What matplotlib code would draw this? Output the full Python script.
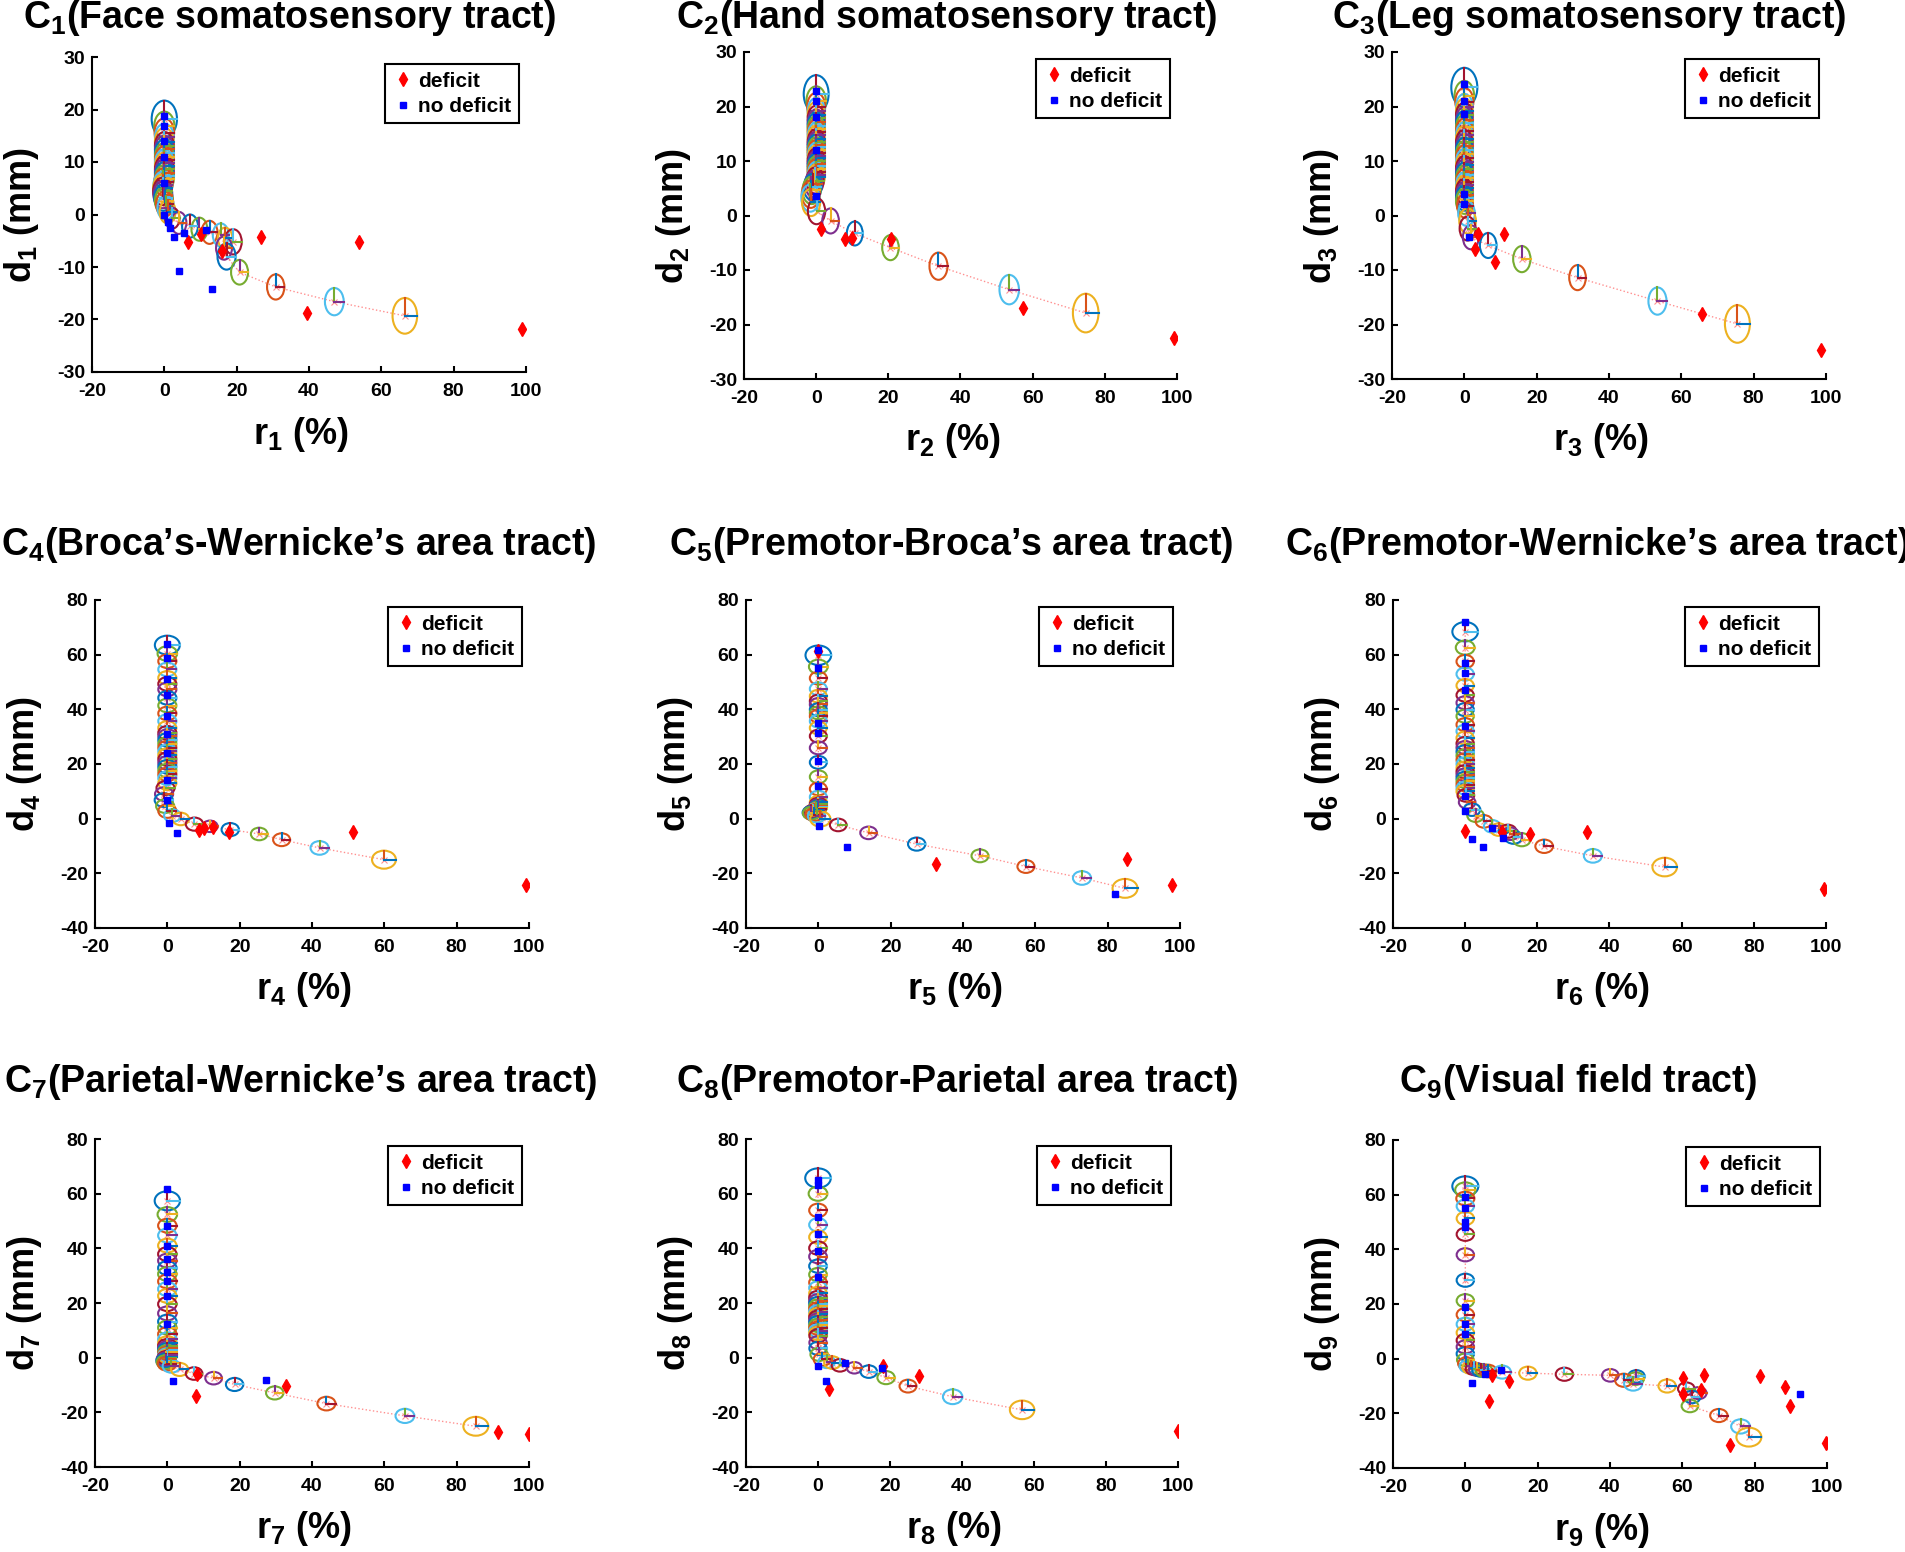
import matplotlib
matplotlib.use("Agg")
import matplotlib.pyplot as plt
from matplotlib.patches import Ellipse
from matplotlib.lines import Line2D

plt.rcParams['font.family'] = 'Liberation Sans'
plt.rcParams['font.weight'] = 'bold'
plt.rcParams['mathtext.fontset'] = 'custom'
plt.rcParams['mathtext.rm'] = 'Liberation Sans:bold'
plt.rcParams['mathtext.it'] = 'Liberation Sans:bold'
plt.rcParams['mathtext.bf'] = 'Liberation Sans:bold'

# MATLAB default colour order
MATLAB_COLORS = ['#0072BD', '#D95319', '#EDB120', '#7E2F8E', '#77AC30', '#4DBEEE', '#A2142F']

TITLES = ["Face somatosensory tract", "Hand somatosensory tract", "Leg somatosensory tract",
          "Broca\u2019s-Wernicke\u2019s area tract", "Premotor-Broca\u2019s area tract",
          "Premotor-Wernicke\u2019s area tract", "Parietal-Wernicke\u2019s area tract",
          "Premotor-Parietal area tract", "Visual field tract"]

X_TICKS = [-20, 0, 20, 40, 60, 80, 100]
Y_TICKS_TOP = [-30, -20, -10, 0, 10, 20, 30]
Y_TICKS_LOW = [-40, -20, 0, 20, 40, 60, 80]

# ---- principal curve nodes (r, d, local radius) + patients ----
# C1
r1_nodes = [0, 0, 0, 0, 0, 0, 0, 0, 0, 0, 0, 0, 0, 0, 0, 0, -0.2, -0.4, -0.5, -0.5, -0.4, -0.3, -0.1, 0.1, 0.4, 0.9,
            2.2, 4.0, 7.1, 9.7, 12.5, 15.6, 16.8, 19.0, 16.5, 17.2, 20.8, 30.8, 47.0, 66.5]
d1_nodes = [18.2, 16.8, 15.6, 14.7, 13.9, 13.1, 12.4, 11.7, 11.0, 10.4, 9.8, 9.2, 8.6, 8.0, 7.4, 6.8, 6.2, 5.6, 5.0,
            4.4, 3.8, 3.2, 2.6, 2.0, 1.3, 0.5,
            -0.7, -1.6, -2.2, -2.8, -3.4, -3.9, -4.5, -5.2, -6.4, -8.0, -11.0, -13.8, -16.6, -19.3]
s1_nodes = [3.5, 2.8, 2.7, 2.6, 2.6, 2.6, 2.6, 2.6, 2.6, 2.6, 2.6, 2.6, 2.6, 2.6, 2.6, 2.6, 2.6, 2.6, 2.6, 2.6, 2.6,
            2.5, 2.5, 2.4, 2.3, 2.2,
            2.0, 2.1, 2.2, 2.2, 2.2, 2.2, 2.0, 2.4, 2.2, 2.5, 2.35, 2.4, 2.6, 3.4]
r1_def = [6.5, 10.1, 16.0, 26.6, 39.5, 53.9, 98.8]
d1_def = [-5.3, -3.8, -7.0, -4.2, -18.7, -5.2, -21.9]
r1_nodef = [0, 0, 0, 0, 0, 0, 0.9, 1.6, 2.8, 5.5, 11.5, 4.1, 13.3]
d1_nodef = [18.7, 16.8, 14.0, 11.0, 6.0, 0.0, -1.5, -2.5, -4.2, -3.5, -2.9, -10.8, -14.1]

# C2
r2_nodes = [0, 0, 0, 0, 0, 0, 0, 0, 0, 0, 0, 0, 0, 0, 0, 0, 0, 0, 0, 0, 0, 0, 0, 0, 0, 0,
            -0.3, -0.7, -1.0, -1.3, -1.5, -1.6, -1.4,
            0.1, 4.0, 10.7, 20.6, 33.9, 53.5, 74.7]
d2_nodes = [22.3, 21.0, 20.0, 19.2, 18.5, 17.8, 17.1, 16.5, 15.9, 15.3, 14.7, 14.1, 13.5, 13.0, 12.5, 12.0, 11.5,
            11.0, 10.5, 10.0, 9.5, 9.0, 8.5, 8.0, 7.5, 7.0, 6.4, 5.8, 5.2, 4.6, 3.9, 3.2, 2.4,
            0.8, -1.0, -3.3, -5.9, -9.3, -13.6, -17.9]
s2_nodes = [3.45, 2.7, 2.5, 2.35, 2.35, 2.35, 2.35, 2.35, 2.35, 2.35, 2.35, 2.35, 2.35, 2.35, 2.35, 2.35, 2.35,
            2.35, 2.35, 2.35, 2.35, 2.35, 2.35, 2.35, 2.35, 2.35, 2.4, 2.4, 2.45, 2.5, 2.5, 2.5, 2.5,
            2.4, 2.3, 2.2, 2.3, 2.5, 2.7, 3.55]
r2_def = [1.4, 8.1, 9.9, 20.7, 57.4, 99.2]
d2_def = [-2.4, -4.4, -4.1, -4.3, -16.9, -22.5]
r2_nodef = [0, 0, 0, 0, 0]
d2_nodef = [22.8, 21.0, 18.0, 12.0, 3.5]

# C3
r3_nodes = [0, 0, 0, 0, 0, 0, 0, 0, 0, 0, 0, 0, 0, 0, 0, 0, 0, 0, 0, 0, 0, 0, 0, 0, 0, 0, 0, 0, 0, 0,
            0.2, 0.6, 0.9, 0.9, 1.8, 6.6, 15.9, 31.3, 53.4, 75.5]
d3_nodes = [23.5, 22.0, 20.9, 20.0, 19.2, 18.4, 17.6, 16.9, 16.2, 15.5, 14.8, 14.1, 13.4, 12.7, 12.0, 11.3, 10.6,
            9.9, 9.2, 8.6, 8.0, 7.4, 6.8, 6.2, 5.6, 5.0, 4.4, 3.8, 3.2, 2.6,
            1.8, 0.4, -1.0, -2.4, -4.0, -5.5, -8.0, -11.4, -15.7, -19.9]
s3_nodes = [3.6, 2.7, 2.5, 2.3, 2.3, 2.3, 2.3, 2.3, 2.3, 2.3, 2.3, 2.3, 2.3, 2.3, 2.3, 2.3, 2.3, 2.3, 2.3, 2.3,
            2.3, 2.3, 2.3, 2.3, 2.3, 2.3, 2.3, 2.3, 2.3, 2.3,
            2.2, 2.3, 2.3, 2.2, 2.2, 2.3, 2.4, 2.3, 2.5, 3.45]
r3_def = [2.9, 3.9, 8.6, 11.0, 65.7, 98.5]
d3_def = [-6.1, -3.4, -8.5, -3.4, -18.1, -24.7]
r3_nodef = [0, 0, 0, 0, 0, 1.2]
d3_nodef = [24.1, 21.0, 18.6, 4.0, 2.1, -4.0]

# C4
r4_nodes = [0, 0, 0, 0, 0, 0, 0, 0, 0, 0, 0, 0, 0, 0, 0, 0, 0, 0, 0, 0, 0, 0, 0, 0, 0, 0,
            -0.5, -0.9, -1.0, -0.6, 0.0,
            1.4, 3.7, 7.5, 11.8, 17.4, 25.4, 31.6, 42.1, 59.9]
d4_nodes = [63.5, 60.4, 57.6, 54.6, 51.5, 49.3, 47.3, 44.2, 41.4, 38.5, 35.7, 33.2, 31.4, 30.2, 28.8, 27.4, 26.0,
            24.6, 23.2, 21.8, 20.4, 19.0, 17.6, 16.2, 14.8, 13.0, 11.2, 9.0, 6.8, 4.6, 2.8,
            1.1, -0.1, -2.0, -2.8, -4.0, -5.6, -7.7, -10.7, -15.0]
s4_nodes = [3.45, 2.7, 2.5, 2.5, 2.5, 2.5, 2.5, 2.5, 2.5, 2.5, 2.5, 2.5, 2.5, 2.5, 2.5, 2.5, 2.5, 2.5, 2.5, 2.5,
            2.5, 2.5, 2.5, 2.5, 2.5, 2.5, 2.5, 2.5, 2.5, 2.5, 2.5,
            2.3, 2.3, 2.4, 2.1, 2.4, 2.3, 2.35, 2.5, 3.3]
r4_def = [8.8, 10.2, 12.5, 17.0, 51.4, 99.2]
d4_def = [-4.3, -3.4, -3.2, -4.9, -4.9, -24.2]
r4_nodef = [0, 0, 0, 0, 0, 0, 0, 0, 0, 0.4, 2.7]
d4_nodef = [64.0, 58.9, 51.0, 45.4, 37.5, 31.0, 24.0, 14.3, 7.0, -1.6, -5.2]

# C5
r5_nodes = [0, 0, 0, 0, 0, 0, 0, 0, 0, 0, 0, 0, 0, 0, 0, 0, 0, 0, 0, 0, 0, 0, 0,
            -0.3, -0.7, -1.1, -1.5, -1.8, -2.0, -1.9, -1.2,
            -0.5, 0.55, 5.5, 13.9, 27.2, 44.7, 57.4, 72.9, 84.8]
d5_nodes = [59.8, 55.6, 51.4, 47.5, 44.8, 43.0, 41.8, 39.9, 38.7, 37.5, 35.7, 33.2, 30.2, 25.9, 20.6, 15.3, 10.9,
            7.9, 6.0, 5.3, 4.8, 4.4, 4.0, 3.6, 3.3, 3.0, 2.7, 2.4, 2.2, 2.0, 1.5,
            1.0, -0.1, -2.3, -5.2, -9.3, -13.6, -17.5, -21.7, -25.5]
s5_nodes = [3.55, 2.6, 2.35, 2.35, 2.35, 2.35, 2.35, 2.35, 2.35, 2.35, 2.35, 2.35, 2.35, 2.35, 2.35, 2.35, 2.35,
            2.35, 2.35, 2.35, 2.35, 2.35, 2.35, 2.35, 2.35, 2.35, 2.35, 2.35, 2.35, 2.35, 2.35,
            2.4, 2.8, 2.3, 2.3, 2.4, 2.35, 2.35, 2.5, 3.45]
r5_def = [0, 32.5, 85.3, 97.7]
d5_def = [61.3, -16.6, -14.8, -24.4]
r5_nodef = [0, 0, 0, 0, 0, 0, 0.2, 8.0, 82.0]
d5_nodef = [61.7, 55.2, 31.4, 21.0, 11.8, 35.0, -2.6, -10.5, -27.7]

# C6
r6_nodes = [0, 0, 0, 0, 0, 0, 0, 0, 0, 0, 0, 0, 0, 0, 0, 0, 0, 0, 0, 0, 0, 0, 0, 0, 0, 0,
            0.2, 0.55, 1.9, 2.9, 5.2, 7.5, 9.3, 11.8, 12.5, 13.4, 15.7, 21.9, 35.4, 55.3]
d6_nodes = [68.4, 62.6, 57.5, 52.9, 48.7, 45.2, 42.4, 39.9, 37.5, 34.4, 32.0, 29.5, 27.5, 26.0, 24.5, 23.0, 21.5,
            20.0, 18.5, 17.2, 16.0, 14.8, 13.6, 12.4, 11.2, 10.0,
            8.5, 6.0, 3.3, 1.1, -1.0, -2.8, -4.0, -4.6, -5.5, -6.8, -7.7, -10.1, -13.6, -17.7]
s6_nodes = [3.55, 2.6, 2.4, 2.4, 2.4, 2.4, 2.4, 2.4, 2.4, 2.4, 2.4, 2.4, 2.4, 2.4, 2.4, 2.4, 2.4, 2.4, 2.4, 2.4,
            2.4, 2.4, 2.4, 2.4, 2.4, 2.4,
            2.3, 2.3, 2.3, 2.3, 2.3, 2.3, 2.3, 2.4, 2.3, 2.4, 2.4, 2.45, 2.5, 3.4]
r6_def = [0, 10.2, 17.9, 33.9, 99.4]
d6_def = [-4.6, -4.9, -5.5, -4.9, -25.6]
r6_nodef = [0, 0, 0, 0, 0, 0, 0, 1.9, 5.0, 10.4, 7.5]
d6_nodef = [72.0, 57.0, 53.4, 47.0, 33.8, 8.2, 2.7, -7.4, -10.5, -7.1, -3.4]

# C7
r7_nodes = [0, 0, 0, 0, 0, 0, 0, 0, 0, 0, 0, 0, 0, 0, 0, 0, 0, 0, 0, 0, 0, 0, 0, 0, 0, 0,
            -0.2, -0.4, -0.5, -0.4, -0.1,
            1.1, 3.4, 7.4, 12.8, 18.6, 29.7, 44.0, 65.7, 85.3]
d7_nodes = [57.4, 52.4, 48.3, 44.7, 41.0, 37.9, 35.5, 32.8, 30.6, 27.9, 25.1, 22.6, 19.6, 16.2, 13.2, 11.0, 8.6,
            6.7, 5.3, 4.3, 3.5, 2.8, 2.1, 1.5, 0.9, 0.4, -0.1, -0.6, -1.1, -1.6, -2.2,
            -3.1, -4.3, -5.8, -7.5, -9.8, -12.9, -16.8, -21.3, -25.1]
s7_nodes = [3.5, 2.7, 2.55, 2.55, 2.55, 2.55, 2.55, 2.55, 2.55, 2.55, 2.55, 2.55, 2.55, 2.55, 2.55, 2.55, 2.55,
            2.55, 2.55, 2.55, 2.55, 2.55, 2.55, 2.55, 2.55, 2.55, 2.55, 2.55, 2.55, 2.55, 2.55,
            2.4, 2.4, 2.3, 2.3, 2.4, 2.4, 2.5, 2.6, 3.45]
r7_def = [8.0, 8.3, 32.8, 91.3, 100.0]
d7_def = [-14.1, -5.9, -10.4, -27.2, -27.8]
r7_nodef = [0, 0, 0, 0, 0, 0, 0, 0, 1.7, 27.3]
d7_nodef = [61.8, 48.0, 41.0, 36.0, 31.2, 28.0, 22.6, 12.2, -8.6, -8.0]

# C8
r8_nodes = [0, 0, 0, 0, 0, 0, 0, 0, 0, 0, 0, 0, 0, 0, 0, 0, 0, 0, 0, 0, 0, 0, 0, 0, 0, 0,
            0.0, 0.0, 0.0, 0.3, 1.2, 2.4, 4.0, 6.1, 10.1, 14.1, 18.9, 25.0, 37.4, 56.7]
d8_nodes = [65.7, 60.0, 53.9, 48.6, 44.1, 40.1, 37.0, 33.5, 30.4, 27.5, 25.5, 23.5, 22.0, 20.8, 19.8, 18.8, 17.8,
            16.8, 15.8, 14.8, 13.8, 12.8, 11.8, 10.8, 9.8, 8.9,
            8.0, 5.5, 3.4, 1.2, -0.6, -1.5, -1.8, -2.8, -3.7, -5.1, -7.3, -10.4, -14.3, -19.1]
s8_nodes = [3.55, 2.6, 2.45, 2.45, 2.45, 2.45, 2.45, 2.45, 2.45, 2.45, 2.45, 2.45, 2.45, 2.45, 2.45, 2.45, 2.45,
            2.45, 2.45, 2.45, 2.45, 2.45, 2.45, 2.45, 2.45, 2.45,
            2.4, 2.4, 2.4, 2.4, 2.4, 2.3, 2.3, 2.3, 2.1, 2.3, 2.4, 2.35, 2.7, 3.4]
r8_def = [3.1, 18.0, 28.0, 99.9]
d8_def = [-11.6, -3.1, -6.7, -26.9]
r8_nodef = [0, 0, 0, 0, 0, 0, 0, 2.1, 7.6, 17.8]
d8_nodef = [64.9, 63.0, 51.4, 45.3, 39.2, 29.4, -3.1, -8.6, -1.8, -3.7]

# C9
r9_nodes = [0, 0, 0, 0, 0, 0, 0, 0, 0, 0, 0, 0, 0, 0, 0,
            0.0, 0.3, 0.7, 1.5, 2.4, 3.3, 4.2, 5.2, 6.3, 10.2, 17.3, 27.4, 40.1, 47.3, 47.1, 43.8, 46.4,
            55.8, 61.1, 64.5, 62.7, 62.1, 70.1, 76.1, 78.4]
d9_nodes = [63.1, 61.7, 58.6, 55.8, 51.3, 45.5, 38.0, 28.7, 21.2, 16.1, 12.6, 9.5, 6.7, 4.3, 1.8,
            -0.4, -1.8, -2.8, -3.3, -3.7, -4.0, -4.3, -4.4, -4.5, -4.9, -5.3, -5.7, -6.1, -6.5, -7.3, -7.9, -9.2,
            -10.0, -11.0, -12.6, -14.0, -17.3, -20.8, -24.8, -28.7]
s9_nodes = [3.6, 2.8, 2.5, 2.4, 2.4, 2.4, 2.4, 2.4, 2.4, 2.4, 2.4, 2.4, 2.4, 2.4, 2.4,
            2.3, 2.3, 2.3, 2.3, 2.3, 2.3, 2.3, 2.3, 2.3, 2.4, 2.4, 2.4, 2.3, 2.3, 2.3, 2.4, 2.5,
            2.4, 2.3, 2.2, 2.3, 2.3, 2.4, 2.6, 3.45]
r9_def = [6.5, 7.3, 12.1, 60.1, 66.0, 60.1, 65.2, 73.3, 81.6, 88.5, 89.7, 99.8]
d9_def = [-15.5, -6.1, -8.2, -7.1, -6.1, -12.8, -11.4, -31.7, -6.3, -10.4, -17.3, -30.9]
r9_nodef = [1.9, 92.4, 9.8, 5.4, 0, 0, 0, 0, 0, 0, 0]
d9_nodef = [-8.9, -12.8, -4.0, -5.5, 59.2, 55.3, 50.0, 48.2, 18.9, 12.8, 9.2]

panels = [
    (r1_nodes, d1_nodes, s1_nodes, r1_def, d1_def, r1_nodef, d1_nodef),
    (r2_nodes, d2_nodes, s2_nodes, r2_def, d2_def, r2_nodef, d2_nodef),
    (r3_nodes, d3_nodes, s3_nodes, r3_def, d3_def, r3_nodef, d3_nodef),
    (r4_nodes, d4_nodes, s4_nodes, r4_def, d4_def, r4_nodef, d4_nodef),
    (r5_nodes, d5_nodes, s5_nodes, r5_def, d5_def, r5_nodef, d5_nodef),
    (r6_nodes, d6_nodes, s6_nodes, r6_def, d6_def, r6_nodef, d6_nodef),
    (r7_nodes, d7_nodes, s7_nodes, r7_def, d7_def, r7_nodef, d7_nodef),
    (r8_nodes, d8_nodes, s8_nodes, r8_def, d8_def, r8_nodef, d8_nodef),
    (r9_nodes, d9_nodes, s9_nodes, r9_def, d9_def, r9_nodef, d9_nodef),
]

# layout in pixels: (left, top, right, bottom) of each axes box
W, H = 1906, 1552
boxes = [(92, 57, 526, 372), (744, 52, 1177, 379), (1392, 52, 1826, 379),
         (95, 600, 529, 928), (746, 600, 1180, 928), (1393, 600, 1826, 928),
         (95, 1139, 529, 1467), (746, 1139, 1178, 1467), (1393, 1140, 1827, 1468)]
title_xy = [(289, 18), (947, 18), (1589, 18), (299, 545), (951, 545), (1597, 545),
            (301, 1082), (957, 1082), (1578, 1082)]

fig = plt.figure(figsize=(W / 100, H / 100), dpi=100)

for n, (box, data) in enumerate(zip(boxes, panels)):
    l, t, rr, b = box
    ax = fig.add_axes([l / W, 1 - b / H, (rr - l) / W, (b - t) / H])
    r_n, d_n, s_n, r_def, d_def, r_nd, d_nd = data
    N = len(r_n)

    # dotted curve through the nodes
    ax.plot(r_n, d_n, ':', color='#FF9090', lw=1.0, zorder=1)
    ax.plot(r_n, d_n, 'x', color='#FF9090', ms=4, mew=0.8, zorder=1)

    # ellipse + two half-axes per node, colours run through the MATLAB order
    for i in range(N):
        k = (3 * (N - 1 - i)) % 7
        rad = s_n[i]
        ax.add_patch(Ellipse((r_n[i], d_n[i]), 2 * rad, 2 * rad, fill=False,
                             edgecolor=MATLAB_COLORS[(k + 2) % 7], lw=1.5, zorder=2))
        ax.plot([r_n[i], r_n[i]], [d_n[i], d_n[i] + rad], color=MATLAB_COLORS[(k + 1) % 7], lw=1.5, zorder=3)
        ax.plot([r_n[i], r_n[i] + rad], [d_n[i], d_n[i]], color=MATLAB_COLORS[k], lw=1.5, zorder=3)

    ax.plot(r_def, d_def, 'd', color='red', ms=7.5, mec='red', ls='none', zorder=4)
    ax.plot(r_nd, d_nd, 's', color='blue', ms=4.5, mec='blue', ls='none', zorder=4)

    yt = Y_TICKS_TOP if n < 3 else Y_TICKS_LOW
    ax.set_xlim(X_TICKS[0], X_TICKS[-1])
    ax.set_ylim(yt[0], yt[-1])
    ax.set_xticks(X_TICKS)
    ax.set_xticklabels([str(v) for v in X_TICKS], fontsize=14, fontweight='bold')
    ax.set_yticks(yt)
    ax.set_yticklabels([str(v) for v in yt], fontsize=14, fontweight='bold')

    for side in ['top', 'right']:
        ax.spines[side].set_visible(False)
    for side in ['left', 'bottom']:
        ax.spines[side].set_linewidth(1.5)
    ax.tick_params(direction='in', length=4, width=1.5)
    ax.tick_params(axis='x', pad=8)
    ax.tick_params(axis='y', pad=5)

    handles = [Line2D([], [], marker='d', color='red', ls='none', ms=7.5),
               Line2D([], [], marker='s', color='blue', ls='none', ms=4.5)]
    leg = ax.legend(handles, ['deficit', 'no deficit'], loc='upper right', fontsize=15,
                    fancybox=False, framealpha=1, edgecolor='black', borderaxespad=0.35,
                    handlelength=1.0, handletextpad=0.25, borderpad=0.35, labelspacing=0.3)
    leg.get_frame().set_linewidth(1.5)

    # axis labels and title
    fig.text((l - 70) / W, 1 - (t + b) / 2 / H, 'd$_{%d}$ (mm)' % (n + 1), rotation=90,
             ha='center', va='center', fontsize=26, fontweight='bold')
    fig.text(((l + rr) / 2 - 8) / W, 1 - (b + 62) / H, 'r$_{%d}$ (%%)' % (n + 1),
             ha='center', va='center', fontsize=26, fontweight='bold')
    tx, ty = title_xy[n]
    fig.text(tx / W, 1 - ty / H, 'C$_{%d}$(%s)' % (n + 1, TITLES[n]),
             ha='center', va='center', fontsize=27, fontweight='bold')

fig.savefig('out.png', dpi=100)
